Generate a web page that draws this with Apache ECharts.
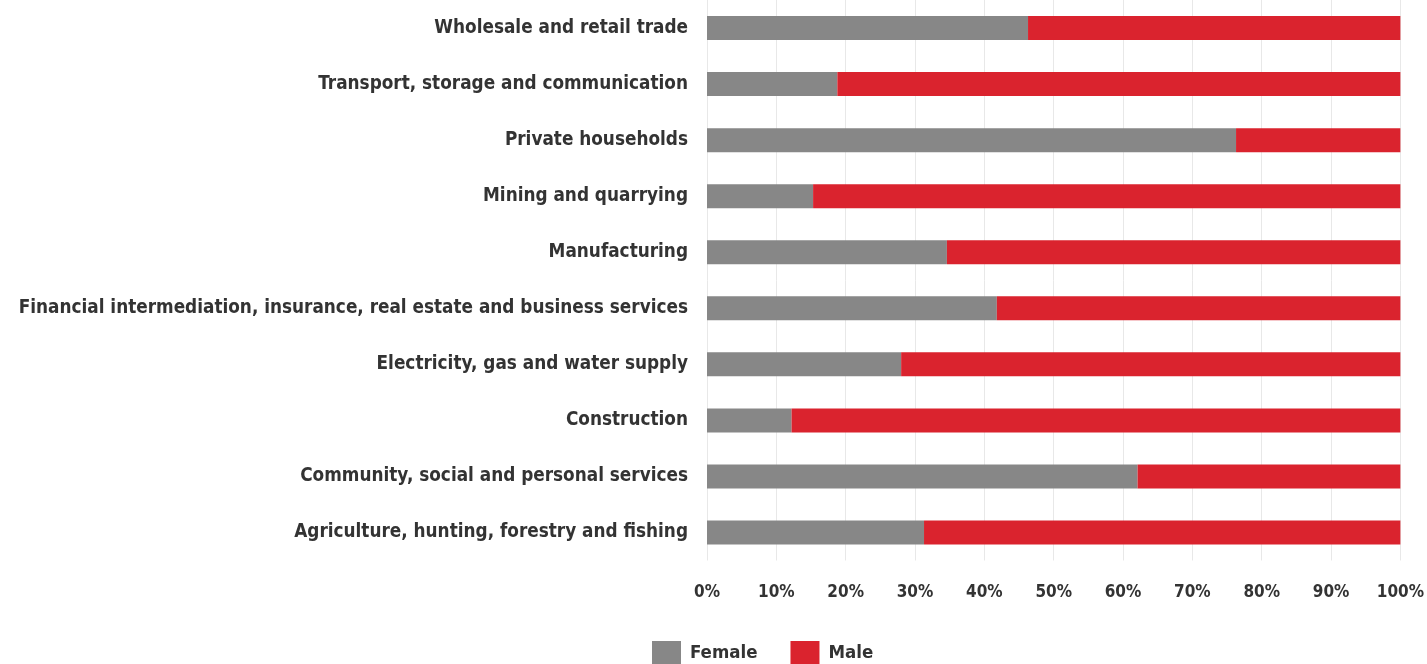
<!DOCTYPE html>
<html>
<head>
<meta charset="utf-8">
<script src="https://cdn.jsdelivr.net/npm/echarts@6/dist/echarts.min.js"></script>
<style>
  html, body { margin: 0; padding: 0; background: #ffffff; }
  #chart { width: 1427px; height: 664px; }
</style>
</head>
<body>
<div id="chart"></div>
<script>
// Sectors, listed bottom-to-top as the category axis draws them
const categories = [
  'Agriculture, hunting, forestry and fishing',
  'Community, social and personal services',
  'Construction',
  'Electricity, gas and water supply',
  'Financial intermediation, insurance, real estate and business services',
  'Manufacturing',
  'Mining and quarrying',
  'Private households',
  'Transport, storage and communication',
  'Wholesale and retail trade'
];

// Share of employment by sex, percent
const female = [31.3, 62.1, 12.2, 28.0, 41.8, 34.6, 15.3, 76.3, 18.8, 46.3];
const male   = [68.7, 37.9, 87.8, 72.0, 58.2, 65.4, 84.7, 23.7, 81.2, 53.7];

const FONT = '"DejaVu Sans Condensed", "DejaVu Sans", sans-serif';
const TEXT = '#333333';

const chart = echarts.init(document.getElementById('chart'), null, { renderer: 'canvas' });

chart.setOption({
  animation: false,
  backgroundColor: '#ffffff',
  grid: { left: 707, right: 26, top: -4.5, height: 565, containLabel: false },
  legend: {
    data: ['Female', 'Male'],
    left: 652,
    top: 641,
    padding: 0,
    itemWidth: 29,
    itemHeight: 24,
    itemGap: 33,
    icon: 'rect',
    textStyle: { fontFamily: FONT, fontWeight: 'bold', fontSize: 18.5, color: TEXT, padding: [0, 0, 0, 4] }
  },
  xAxis: {
    type: 'value',
    min: 0,
    max: 100,
    interval: 10,
    axisLine: { show: false },
    axisTick: { show: false },
    splitLine: { show: true, lineStyle: { color: '#e8e8e8', width: 1 } },
    axisLabel: {
      formatter: '{value}%',
      fontFamily: FONT, fontWeight: 'bold', fontSize: 17, color: TEXT,
      margin: 24
    }
  },
  yAxis: {
    type: 'category',
    data: categories,
    axisLine: { show: false },
    axisTick: { show: false },
    splitLine: { show: false },
    axisLabel: {
      fontFamily: FONT, fontWeight: 'bold', fontSize: 18.8, color: TEXT,
      margin: 19,
      padding: [6, 0, 0, 0]
    }
  },
  series: [
    {
      name: 'Female', type: 'bar', stack: 'share', data: female,
      barWidth: 24,
      itemStyle: { color: '#878787' }
    },
    {
      name: 'Male', type: 'bar', stack: 'share', data: male,
      barWidth: 24,
      itemStyle: { color: '#da232e' }
    }
  ]
});
</script>
</body>
</html>
